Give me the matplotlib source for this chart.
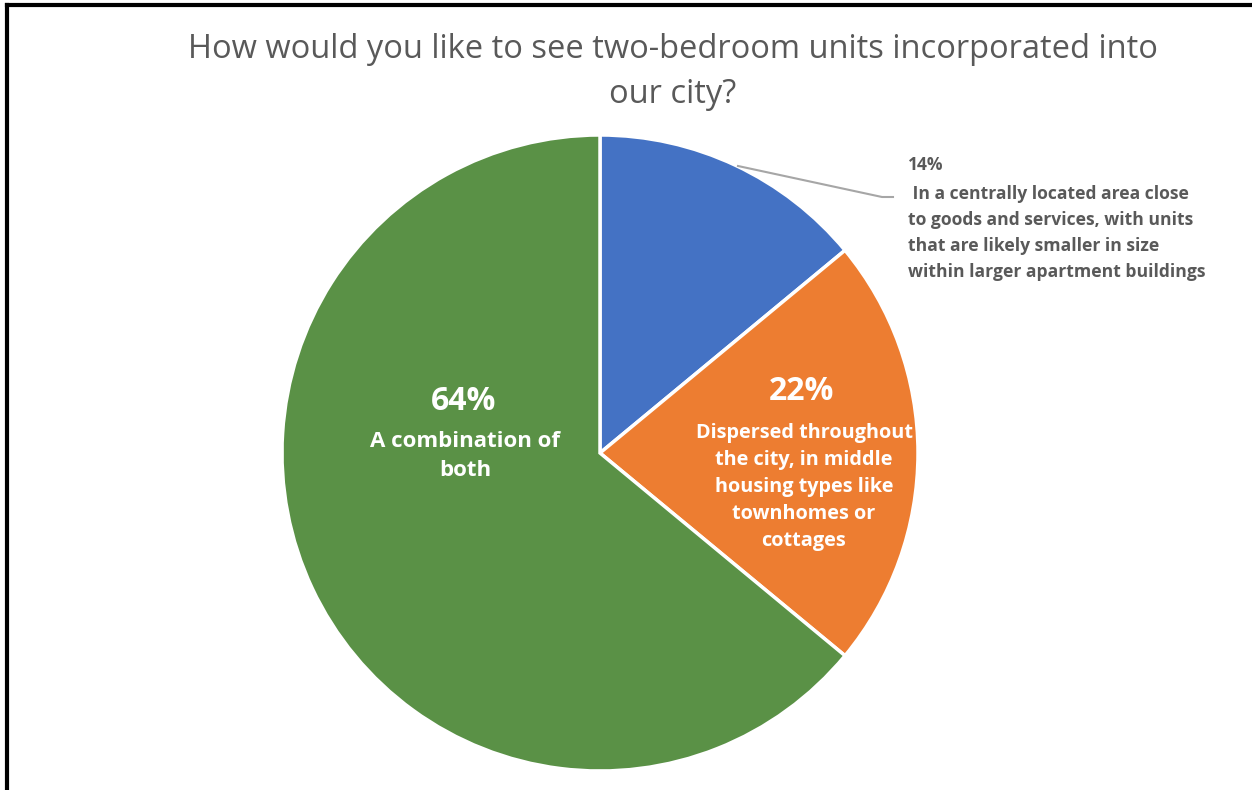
import matplotlib
matplotlib.use("Agg")
import matplotlib.pyplot as plt
from matplotlib.lines import Line2D

# Survey responses
categories = [
    "In a centrally located area close\nto goods and services, with units\nthat are likely smaller in size\nwithin larger apartment buildings",
    "Dispersed throughout\nthe city, in middle\nhousing types like\ntownhomes or\ncottages",
    "A combination of\nboth",
]
shares = [14, 22, 64]
colors = ["#4472C4", "#ED7D31", "#5A9146"]
title = "How would you like to see two-bedroom units incorporated into\nour city?"

W, H = 1252, 790
fig = plt.figure(figsize=(W / 100, H / 100), dpi=100)
ax = fig.add_axes([0, 0, 1, 1])

def Y(y):
    # top-down pixel row to data y
    return H - y

cx, cy, r = 600, Y(453), 318
ax.pie(shares, colors=colors, startangle=90, counterclock=False,
       center=(cx, cy), radius=r,
       wedgeprops=dict(edgecolor="white", linewidth=2.5))
ax.set_xlim(0, W)
ax.set_ylim(0, H)
ax.set_aspect("equal")
ax.axis("off")

font = "Open Sans"
gray = "#595959"

ax.text(673, Y(72), title, ha="center", va="center", fontsize=23.5,
        color=gray, family=font, linespacing=1.47)

# In-slice labels
ax.text(464, Y(401), f"{shares[2]}%", ha="center", va="center",
        fontsize=23, fontweight="bold", color="white", family=font)
ax.text(465, Y(456), categories[2], ha="center", va="center",
        fontsize=16, fontweight="bold", color="white", family=font,
        linespacing=1.5)

ax.text(802, Y(392), f"{shares[1]}%", ha="center", va="center",
        fontsize=23, fontweight="bold", color="white", family=font)
ax.text(804, Y(487), categories[1], ha="center", va="center",
        fontsize=14.3, fontweight="bold", color="white", family=font,
        linespacing=1.47)

# Outside label with leader line
ax.add_line(Line2D([738, 882, 893], [Y(166), Y(197), Y(197)],
                   color="#A6A6A6", linewidth=1.5))
ax.text(908, Y(165), f"{shares[0]}%", ha="left", va="center",
        fontsize=12.6, fontweight="bold", color=gray, family=font)
ax.text(908, Y(233), " " + categories[0], ha="left", va="center",
        fontsize=12.6, fontweight="bold", color=gray, family=font,
        linespacing=1.59)

# Frame edges
ax.add_line(Line2D([7, 7], [Y(5), 0], color="black", linewidth=3,
                   solid_capstyle="projecting"))
ax.add_line(Line2D([7, W], [Y(5), Y(5)], color="black", linewidth=3,
                   solid_capstyle="projecting"))

fig.savefig("out.png", dpi=100)
